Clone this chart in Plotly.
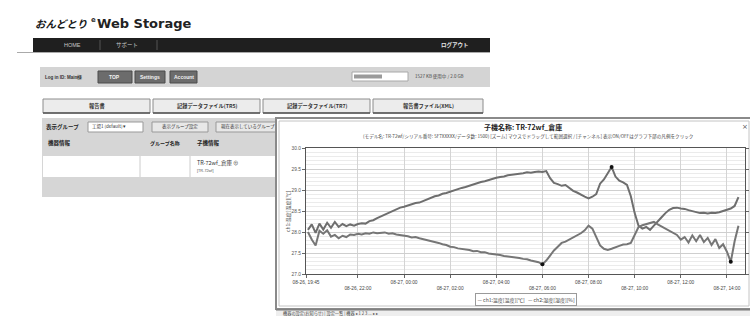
import plotly.graph_objects as go
import pandas as pd

# ---------------- data ----------------
times = pd.date_range("2014-08-26 19:50", periods=113, freq="10min")

temp = [28.05, 28.18, 27.98, 28.20, 28.06, 28.22, 28.10, 28.24, 28.12, 28.19,
        28.14, 28.18, 28.15, 28.19, 28.21, 28.20, 28.26, 28.28, 28.33, 28.37,
        28.41, 28.45, 28.50, 28.53, 28.58, 28.60, 28.63, 28.66, 28.69, 28.70,
        28.74, 28.78, 28.82, 28.85, 28.87, 28.91, 28.93, 28.96, 29.00, 29.02,
        29.05, 29.07, 29.10, 29.14, 29.17, 29.19, 29.21, 29.24, 29.27, 29.29,
        29.31, 29.32, 29.35, 29.36, 29.38, 29.39, 29.40, 29.42, 29.41, 29.43,
        29.44, 29.43, 29.45, 29.28, 29.17, 29.14, 29.10, 29.12, 29.05, 28.98,
        28.94, 28.88, 28.84, 28.80, 28.84, 28.90, 29.15, 29.25, 29.40, 29.55,
        29.32, 29.22, 29.18, 29.12, 28.85, 28.45, 28.15, 28.08, 28.12, 28.05,
        28.15, 28.24, 28.35, 28.45, 28.53, 28.57, 28.58, 28.56, 28.55, 28.52,
        28.50, 28.48, 28.45, 28.46, 28.44, 28.46, 28.45, 28.47, 28.50, 28.52,
        28.56, 28.62, 28.83]

humid = [50.0, 48.2, 46.8, 50.3, 49.6, 50.4, 48.9, 49.3, 48.5, 49.1,
         48.8, 49.4, 49.3, 49.6, 49.4, 49.7, 49.6, 49.9, 49.7, 49.8,
         49.9, 49.6, 49.7, 49.4, 49.3, 49.1, 49.0, 48.7, 48.8, 48.5,
         48.3, 48.0, 47.9, 47.6, 47.4, 47.1, 46.9, 46.5, 46.4, 46.1,
         46.0, 45.8, 45.7, 45.4, 45.5, 45.2, 45.2, 44.9, 44.8, 44.6,
         44.5, 44.3, 44.2, 44.0, 43.9, 43.8, 43.6, 43.5, 43.2, 43.0,
         42.8, 42.3, 43.2, 44.4, 45.6, 46.5, 47.4, 47.7, 48.2, 48.6,
         49.2, 49.7, 50.4, 51.5, 50.8, 48.9, 46.8, 46.0, 45.7, 46.0,
         46.4, 46.7, 47.0, 47.1, 47.4, 49.5, 51.2, 51.6, 51.9, 52.1,
         52.4, 51.8, 51.3, 50.8, 50.3, 49.8, 49.3, 48.2, 48.8, 47.5,
         49.2, 47.8, 49.3, 47.6, 48.6, 46.9, 48.3, 46.2, 47.1, 45.3,
         42.9, 47.8, 51.5]

temp_marks = [79]
humid_marks = [61, 110]

x_tick_vals = ["2014-08-26 19:45", "2014-08-26 22:00", "2014-08-27 00:00",
               "2014-08-27 02:00", "2014-08-27 04:00", "2014-08-27 06:00",
               "2014-08-27 08:00", "2014-08-27 10:00", "2014-08-27 12:00",
               "2014-08-27 14:00"]
x_tick_text = ["08-26, 19:45", "<br>08-26, 22:00", "08-27, 00:00",
               "<br>08-27, 02:00", "08-27, 04:00", "<br>08-27, 06:00",
               "08-27, 08:00", "<br>08-27, 10:00", "08-27, 12:00",
               "<br>08-27, 14:00"]
y_tick_vals = [27.0, 27.5, 28.0, 28.5, 29.0, 29.5, 30.0]
y_tick_text = ["27.0", "27.5", "28.0", "28.5", "29.0", "29.5", "30.0"]
y2_tick_vals = [40, 45, 50, 55, 60, 65, 70]

# ---------------- helpers ----------------
W, H = 750, 316
JP = "Noto Sans CJK JP"


def px(x):
    return x / W


def py(y):
    return 1 - y / H


shapes = []
annotations = []


def rect(x0, y0, x1, y1, fill, line=None, lw=1):
    shapes.append(dict(type="rect", xref="paper", yref="paper",
                       x0=px(x0), x1=px(x1), y0=py(y1), y1=py(y0),
                       fillcolor=fill, line=dict(color=line or fill, width=lw if line else 0),
                       layer="below"))


def hline(x0, x1, y, color, lw=1):
    shapes.append(dict(type="line", xref="paper", yref="paper",
                       x0=px(x0), x1=px(x1), y0=py(y), y1=py(y),
                       line=dict(color=color, width=lw), layer="below"))


def vline(x, y0, y1, color, lw=1):
    shapes.append(dict(type="line", xref="paper", yref="paper",
                       x0=px(x), x1=px(x), y0=py(y0), y1=py(y1),
                       line=dict(color=color, width=lw), layer="below"))


def text(x, y, s, size=6, color="#333", anchor="left", bold=False, family=JP, angle=0, **kw):
    if bold:
        s = "<b>" + s + "</b>"
    annotations.append(dict(xref="paper", yref="paper", x=px(x), y=py(y), text=s,
                            showarrow=False, xanchor=anchor, yanchor="middle",
                            textangle=angle,
                            font=dict(size=size, color=color, family=family), **kw))


# ---------------- page UI ----------------
# logo
text(33, 24, "<i>おんどとり</i>", size=10.5, color="#1a1a1a", bold=True)
text(89, 20, "e", size=7, color="#333", bold=True, family="DejaVu Sans")
text(95, 24, "Web Storage", size=13, color="#222", bold=True, family="DejaVu Sans")

# nav bar
hline(17, 490, 52.5, "#aaaaaa")
rect(33, 38, 490, 52, "#1f1f1f")
vline(100, 40, 50, "#555555")
vline(157, 40, 50, "#555555")
text(72, 45, "HOME", size=5.5, color="#c8c8c8", anchor="center", family="Liberation Sans")
text(127, 45, "サポート", size=5.5, color="#c8c8c8", anchor="center")
text(455, 45, "ログアウト", size=5.5, color="#e6e6e6", anchor="center", bold=True)

# account bar
rect(40, 67, 490, 87, "#d4d4d4")
text(43, 77, "Log in ID: Main様", size=4.5, color="#333", bold=True, family="Liberation Sans")
for (a, b, lab) in [(98, 132, "TOP"), (135, 165, "Settings"), (170, 197, "Account")]:
    rect(a, 71, b, 83, "#6c6c6c", "#4a4a4a")
    text((a + b) / 2, 77, lab, size=5, color="#f2f2f2", anchor="center", bold=True,
         family="Liberation Sans")
rect(352, 72, 408, 81, "#ffffff", "#a8a8a8")
rect(354, 74.5, 382, 78.5, "#9a9a9a")
text(413, 77, "1527 KB 使用中 / 2.0 GB", size=4.5, color="#444")

# four buttons
for (a, b, lab) in [(43, 150, "報告書"), (153, 260, "記録データファイル(TR5)"),
                    (263, 370, "記録データファイル(TR7)"), (373, 483, "報告書ファイル(XML)")]:
    rect(a, 99, b, 113, "#ececec", "#8c8c8c")
    hline(a, b, 113, "#555555", 1.5)
    text((a + b) / 2, 106, lab, size=5.2, color="#333", anchor="center", bold=True)

# group table panel
rect(42, 118, 490, 197, "#d6d6d6")
text(44, 127, "表示グループ", size=5.5, color="#222", bold=True)
rect(88, 122, 143, 132, "#ffffff", "#999999")
text(90, 127, "工場1 (default) ▾", size=4.5, color="#333")
rect(152, 122, 208, 132, "#e8e8e8", "#999999")
text(180, 127, "表示グループ設定", size=4.5, color="#333", anchor="center")
rect(216, 122, 290, 132, "#e8e8e8", "#999999")
text(219, 127, "現在表示しているグループ", size=4.5, color="#333")
text(46, 143, "機器情報", size=5.5, color="#222", bold=True)
text(148, 143, "グループ名称", size=5, color="#222", bold=True)
text(195, 143, "子機情報", size=5.5, color="#222", bold=True)
rect(43, 156, 290, 177, "#ffffff")
vline(140, 156, 177, "#cccccc")
vline(190, 156, 177, "#cccccc")
text(195, 163, "TR-72wf_倉庫 ⊕", size=5.5, color="#333")
text(195, 171, "[TR-72wf]", size=3.8, color="#555", family="Liberation Sans")

# popup window
rect(276, 118, 752, 309, "#ffffff", "#8a8a8a", 2)
rect(279, 121, 749, 306, "#ffffff", "#c4c4c4", 1)
rect(276, 310, 752, 318, "#eeeeee")
hline(276, 752, 310, "#777777")
text(281, 313, "機器の設定(お知らせ) | 設定一覧 | 機器 ▸ 1 2 3 ... ▸ ▸", size=4.2, color="#444")
text(745, 127, "×", size=7, color="#555", anchor="center", family="DejaVu Sans")
text(523, 127, "子機名称: TR-72wf_倉庫", size=7, color="#222", anchor="center", bold=True)
text(528, 136, "(モデル名: TR-72wf/シリアル番号: 5F7XXXXX/データ数: 1500) [ズーム] マウスでドラッグして範囲選択 / "
     "[チャンネル] 表示ON/OFFはグラフ下部の凡例をクリック", size=4.6, color="#444", anchor="center")
text(288, 211, "ch1:温度[温度][℃]", size=5, color="#555", anchor="center", angle=-90)
text(526, 299, "— ch1:温度[温度][℃]   — ch2:湿度[湿度][%]", size=5, color="#444", anchor="center",
     bordercolor="#9a9a9a", borderwidth=1, borderpad=1.5, bgcolor="#ffffff")

# ---------------- chart ----------------
fig = go.Figure()
fig.add_trace(go.Scatter(x=times, y=temp, mode="lines", name="ch1:温度[温度][℃]",
                         line=dict(color="#6e6e6e", width=2)))
fig.add_trace(go.Scatter(x=times, y=humid, mode="lines", name="ch2:湿度[湿度][%]",
                         yaxis="y2", line=dict(color="#767676", width=2)))
fig.add_trace(go.Scatter(x=[times[i] for i in temp_marks], y=[temp[i] for i in temp_marks],
                         mode="markers", marker=dict(color="#111", size=4), showlegend=False))
fig.add_trace(go.Scatter(x=[times[i] for i in humid_marks], y=[humid[i] for i in humid_marks],
                         mode="markers", yaxis="y2", marker=dict(color="#111", size=4),
                         showlegend=False))

fig.update_layout(
    width=W, height=H, autosize=False,
    margin=dict(l=0, r=0, t=0, b=0),
    paper_bgcolor="#ffffff", plot_bgcolor="#ffffff",
    showlegend=False,
    shapes=shapes, annotations=annotations,
    font=dict(family=JP, size=6, color="#444"),
    xaxis=dict(domain=[px(306), px(745)], type="date",
               range=["2014-08-26 19:45", "2014-08-27 14:47"],
               tickmode="array", tickvals=x_tick_vals, ticktext=x_tick_text,
               tickfont=dict(size=4.8, color="#444", family="Liberation Sans"),
               showgrid=True, gridcolor="#d4d4d4", gridwidth=1,
               showline=True, linecolor="#555", linewidth=1.2, mirror=True,
               ticks="outside", ticklen=3, tickcolor="#666", automargin=False,
               zeroline=False),
    yaxis=dict(domain=[py(274), py(148)], range=[27, 30],
               tickmode="array", tickvals=y_tick_vals, ticktext=y_tick_text,
               tickfont=dict(size=4.8, color="#555", family="Liberation Sans"),
               showgrid=True, gridcolor="#cfcfcf",
               minor=dict(dtick=0.1, showgrid=True, gridcolor="#ebebeb", ticks=""),
               showline=True, linecolor="#555", linewidth=1.2, mirror=True,
               ticks="outside", ticklen=3, tickcolor="#666", automargin=False,
               zeroline=False),
    yaxis2=dict(overlaying="y", side="right", range=[40, 70],
                tickmode="array", tickvals=y2_tick_vals, showticklabels=False,
                showgrid=False, zeroline=False, ticks="outside", ticklen=3,
                tickcolor="#666", showline=True, linecolor="#555", linewidth=1.2,
                automargin=False),
)

fig.write_html("out.html", config={"displayModeBar": False},
               post_script="document.body.style.margin='0';document.body.style.padding='0';")
